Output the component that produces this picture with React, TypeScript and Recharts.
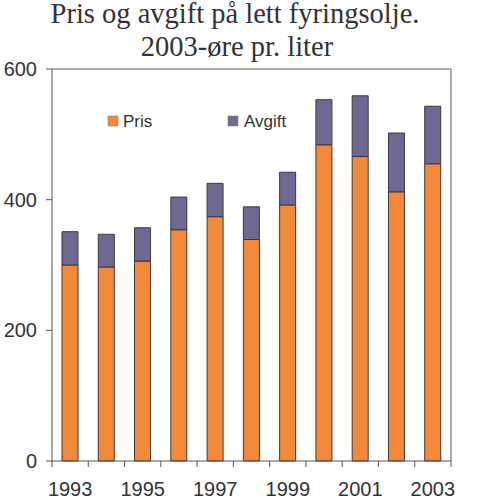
import React from "react";
import { BarChart, Bar, XAxis, YAxis, ReferenceLine, Legend } from "recharts";

const years = ["1993", "1994", "1995", "1996", "1997", "1998", "1999", "2000", "2001", "2002", "2003"];
const pris = [300, 297, 306, 354, 374, 339, 392, 484, 466, 412, 455];
const avgift = [51, 50, 51, 50, 51, 50, 50, 69, 93, 90, 88];
const yTicks = [0, 200, 400, 600];
const titleLines = ["Pris og avgift på lett fyringsolje.", "2003-øre pr. liter"];

const data = years.map((y, i) => ({ year: y, pris: pris[i], avgift: avgift[i] }));

const W = 500;
const H = 498;
const PLOT_LEFT = 52;
const PLOT_RIGHT = 451;
const PLOT_TOP = 69;
const PLOT_BOTTOM = 461;
const AXIS_W = 46;
const BAND = (PLOT_RIGHT - PLOT_LEFT) / years.length;

const ORANGE = "#F5893A";
const PURPLE = "#6E6893";
const AXIS = "#555555";
const TEXT = "#333333";
const SANS = "'Liberation Sans', Arial, sans-serif";
const SERIF = "'Liberation Serif', 'Times New Roman', serif";

const XTick = (props: any) => {
  const { x, y, payload, index } = props;
  const axisY = y - 8;
  const half = BAND / 2;
  return (
    <g>
      <line x1={x - half} x2={x - half} y1={axisY} y2={axisY + 6} stroke={AXIS} strokeWidth={1} />
      {index === years.length - 1 && (
        <line x1={x + half} x2={x + half} y1={axisY} y2={axisY + 6} stroke={AXIS} strokeWidth={1} />
      )}
      {index % 2 === 0 && (
        <text x={x} y={axisY + 34.5} textAnchor="middle" fontFamily={SANS} fontSize={20} fill={TEXT}>
          {payload.value}
        </text>
      )}
    </g>
  );
};

const LegendContent = () => (
  <svg width={220} height={30}>
    <rect x={8} y={11} width={10} height={10} fill={ORANGE} stroke="#777" strokeWidth={0.5} />
    <text x={23} y={22} fontFamily={SANS} fontSize={17} fill={TEXT}>Pris</text>
    <rect x={128} y={11} width={10} height={10} fill={PURPLE} stroke="#777" strokeWidth={0.5} />
    <text x={144} y={22} fontFamily={SANS} fontSize={17} fill={TEXT}>Avgift</text>
  </svg>
);

export default function App() {
  return (
    <div style={{ position: "absolute", left: 0, top: 0, width: W, height: H, background: "#fff" }}>
      <svg width={W} height={70} style={{ position: "absolute", left: 0, top: 0 }}>
        <text x={235} y={23} textAnchor="middle" fontFamily={SERIF} fontSize={28.5} fill={TEXT}>
          {titleLines[0]}
        </text>
        <text x={237} y={55.5} textAnchor="middle" fontFamily={SERIF} fontSize={28.5} fill={TEXT}>
          {titleLines[1]}
        </text>
      </svg>
      <div style={{ position: "absolute", left: 0, top: 0 }}>
        <BarChart
          width={W}
          height={H}
          data={data}
          margin={{ top: PLOT_TOP, left: PLOT_LEFT - AXIS_W, right: W - PLOT_RIGHT - AXIS_W, bottom: H - PLOT_BOTTOM - 30 }}
          barSize={16}
        >
          <XAxis
            dataKey="year"
            interval={0}
            height={30}
            tickLine={false}
            tickSize={6}
            tickMargin={2}
            axisLine={{ stroke: AXIS }}
            tick={<XTick />}
          />
          <YAxis
            yAxisId="left"
            domain={[0, 600]}
            ticks={yTicks}
            width={AXIS_W}
            tickSize={6}
            tickMargin={9}
            axisLine={{ stroke: AXIS }}
            tickLine={{ stroke: AXIS }}
            tick={{ fontFamily: SANS, fontSize: 20, fill: TEXT }}
          />
          <YAxis
            yAxisId="right"
            orientation="right"
            domain={[0, 600]}
            ticks={yTicks}
            width={AXIS_W}
            tickSize={6}
            tickMargin={6}
            axisLine={{ stroke: AXIS }}
            tickLine={{ stroke: AXIS }}
            tick={{ fontFamily: SANS, fontSize: 20, fill: TEXT }}
          />
          <ReferenceLine yAxisId="left" y={600} stroke={AXIS} strokeWidth={1} />
          <Legend
            layout="horizontal"
            verticalAlign="middle"
            align="center"
            content={<LegendContent />}
            wrapperStyle={{ top: 105, left: 100, width: 220 }}
          />
          <Bar yAxisId="left" dataKey="pris" stackId="a" fill={ORANGE} stroke="#3a3a3a" strokeWidth={1} isAnimationActive={false} />
          <Bar yAxisId="left" dataKey="avgift" stackId="a" fill={PURPLE} stroke="#3a3a3a" strokeWidth={1} isAnimationActive={false} />
        </BarChart>
      </div>
    </div>
  );
}
